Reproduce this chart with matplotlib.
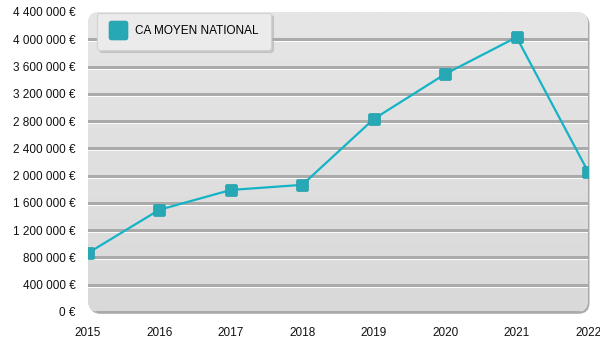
import numpy as np
import matplotlib
matplotlib.use("Agg")
import matplotlib.pyplot as plt
import matplotlib.patheffects as pe
from matplotlib.patches import FancyBboxPatch
from matplotlib.path import Path
from matplotlib.ticker import FixedLocator, FuncFormatter

plt.rcParams["font.family"] = ["Liberation Sans", "DejaVu Sans"]

# Average national turnover per year
years = [2015, 2016, 2017, 2018, 2019, 2020, 2021, 2022]
ca_moyen = [865000, 1500000, 1790000, 1865000, 2830000, 3490000, 4030000, 2060000]
series_label = "CA MOYEN NATIONAL"
y_ticks = [0, 400000, 800000, 1200000, 1600000, 2000000, 2400000,
           2800000, 3200000, 3600000, 4000000, 4400000]

LINE_COLOR = "#14b4c6"
MARKER_COLOR = "#27a9b5"


def rounded_square(r=0.25, n=6):
    """Square marker path with rounded corners."""
    pts = []
    centers = [(1 - r, 1 - r, 0), (-1 + r, 1 - r, 90),
               (-1 + r, -1 + r, 180), (1 - r, -1 + r, 270)]
    for cx, cy, a0 in centers:
        for t in np.linspace(a0, a0 + 90, n):
            pts.append((cx + r * np.cos(np.radians(t)),
                        cy + r * np.sin(np.radians(t))))
    pts.append(pts[0])
    return Path(pts, closed=True)


fig = plt.figure(figsize=(6, 3.5), dpi=100)
ax = fig.add_axes([88 / 600, 38 / 350, 500 / 600, 300 / 350])
ax.patch.set_visible(False)
for s in ax.spines.values():
    s.set_visible(False)

x0, x1 = years[0], years[-1]
y0, y1 = y_ticks[0], y_ticks[-1]

# Rounded plot panel with a thin shadow and a vertical gradient
aspect = 500 / 300
shadow = FancyBboxPatch((0.003, -0.006), 1.0, 1.0,
                        boxstyle="round,pad=0,rounding_size=0.022",
                        mutation_aspect=aspect, transform=ax.transAxes,
                        facecolor="#aaaaaa", edgecolor="none",
                        zorder=-2, clip_on=False)
ax.add_patch(shadow)
panel = FancyBboxPatch((0, 0), 1.0, 1.0,
                       boxstyle="round,pad=0,rounding_size=0.022",
                       mutation_aspect=aspect, transform=ax.transAxes,
                       facecolor="#dfdfdf", edgecolor="none",
                       zorder=-1, clip_on=False)
ax.add_patch(panel)
grad = np.repeat(np.linspace(0, 1, 300).reshape(-1, 1), 4, axis=1)
cmap = matplotlib.colors.LinearSegmentedColormap.from_list(
    "panel", ["#d9d9d9", "#e6e6e6"])
img = ax.imshow(grad, cmap=cmap, extent=[x0, x1, y0, y1], origin="lower",
                aspect="auto", zorder=-0.5, interpolation="bilinear")
img.set_clip_path(panel)

ax.set_xlim(x0, x1)
ax.set_ylim(y0, y1)

ax.xaxis.set_major_locator(FixedLocator(years))
ax.xaxis.set_major_formatter(FuncFormatter(lambda v, p: f"{int(v)}"))
ax.yaxis.set_major_locator(FixedLocator(y_ticks))
ax.yaxis.set_major_formatter(
    FuncFormatter(lambda v, p: f"{v:,.0f}".replace(",", " ") + " €"))
ax.tick_params(axis="both", length=0, labelsize=8.5, colors="#111111")
ax.tick_params(axis="y", pad=9)
ax.tick_params(axis="x", pad=11)

ax.set_axisbelow(True)
ax.yaxis.grid(True, color="#aaaaaa", linewidth=0.75)
ax.xaxis.grid(False)
gridlines = ax.yaxis.get_gridlines()
for gl in gridlines:
    gl.set_antialiased(False)
    gl.set_clip_path(panel)
    gl.set_path_effects([pe.SimpleLineShadow(offset=(0, -0.72),
                                             shadow_color="white", alpha=0.9),
                         pe.Normal()])
# the top edge of the panel carries no rule
gridlines[-1].set_visible(False)

ax.plot(years, ca_moyen, color=LINE_COLOR, linewidth=1.6,
        marker=rounded_square(), markersize=8.5,
        markerfacecolor=MARKER_COLOR, markeredgecolor="#1f9ba7",
        markeredgewidth=0.5, label=series_label, zorder=3)

leg = ax.legend(loc="upper left", bbox_to_anchor=(0.018, 0.997),
                frameon=True, fancybox=True, markerscale=1.6,
                handlelength=1.4, handletextpad=0.75, borderpad=1.05,
                borderaxespad=0, fontsize=8.5,
                shadow={"color": "#b5b5b5", "alpha": 0.6})
frame = leg.get_frame()
frame.set_facecolor("#ebebeb")
frame.set_edgecolor("#d2d2d2")
frame.set_alpha(1.0)
frame.set_linewidth(0.8)
for h in leg.legend_handles:
    h.set_linestyle("none")

fig.savefig("out.png", dpi=100)
